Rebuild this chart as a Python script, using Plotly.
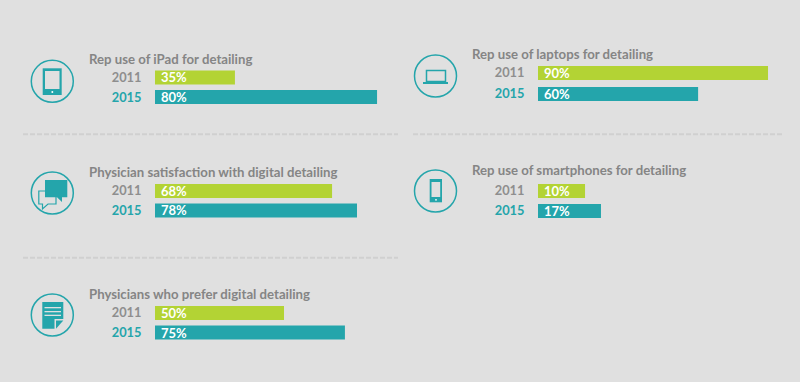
import plotly.graph_objects as go

# ---- data ----
years = ["2011", "2015"]
titles = [
    "Rep use of iPad for detailing",
    "Physician satisfaction with digital detailing",
    "Physicians who prefer digital detailing",
    "Rep use of laptops for detailing",
    "Rep use of smartphones for detailing",
]
labels_2011 = ["35%", "68%", "50%", "90%", "10%"]
labels_2015 = ["80%", "78%", "75%", "60%", "17%"]
# drawn bar lengths (the bars are not exactly to scale with their labels)
drawn_2011 = [31.1, 68.9, 50.2, 89.5, 18.3]
drawn_2015 = [86.4, 78.6, 73.9, 62.3, 24.5]

# ---- layout / style ----
W, H = 800, 382
BG, TEAL, LIME = "#e0e0e0", "#24a5ab", "#b3d334"
TITLE_C, YEAR_C, DASH_C = "#858585", "#8e8e8e", "#d0d0d0"
FONT = "Lato"
PX_PER_UNIT = 2.57
# bar left, centre y of first bar, row pitch, title y
panels = [
    (155, 77.4, 19.7, 58.5),
    (155, 191.0, 19.5, 171.7),
    (155, 313.0, 19.5, 294.3),
    (538, 73.0, 21.0, 54.0),
    (538, 191.0, 20.0, 170.0),
]
BAR_H = 14.0


def X(p):
    return p / W


def Y(p):
    return 1 - p / H


def poly(points, fill=None, line=None, lw=1.5):
    d = "M" + " L".join(f"{X(a):.5f},{Y(b):.5f}" for a, b in points) + " Z"
    return dict(type="path", path=d, xref="paper", yref="paper", layer="above",
                fillcolor=fill or "rgba(0,0,0,0)",
                line=dict(color=line or "rgba(0,0,0,0)", width=lw if line else 0))


def rect(x0, y0, x1, y1, fill=None, line=None, lw=1.5):
    return poly([(x0, y0), (x1, y0), (x1, y1), (x0, y1)], fill, line, lw)


def circle(cx, cy, r, fill=None, line=None, lw=1.5):
    return dict(type="circle", xref="paper", yref="paper", layer="above",
                x0=X(cx - r), x1=X(cx + r), y0=Y(cy + r), y1=Y(cy - r),
                fillcolor=fill or "rgba(0,0,0,0)",
                line=dict(color=line or "rgba(0,0,0,0)", width=lw if line else 0))


def dash(x0, x1, y):
    return dict(type="line", xref="paper", yref="paper", x0=X(x0), x1=X(x1), y0=Y(y), y1=Y(y),
                line=dict(color=DASH_C, width=2, dash="5px,2px"))


shapes = [dash(23, 398, 134.3), dash(23, 398, 257.8), dash(413, 782, 134.3)]

# icon rings
for c in [(52.3, 81.3), (52.3, 193), (52.3, 315), (435.5, 76), (435.5, 191)]:
    shapes.append(circle(c[0], c[1], 21, line=TEAL, lw=1.5))

# tablet
shapes += [rect(42.7, 68.3, 61.7, 95, fill=TEAL), rect(45, 71, 59.5, 89, fill=BG),
           circle(52.3, 92, 1, fill="#ffffff")]
# chat bubbles
shapes += [
    poly([(38.8, 191), (56, 191), (56, 204), (48, 204), (42.5, 209), (42.5, 204), (38.8, 204)], line=TEAL, lw=1.2),
    poly([(45, 180), (67.3, 180), (67.3, 197.3), (62, 197.3), (62, 202), (57, 197.3), (45, 197.3)], fill=TEAL),
]
# document
shapes += [
    poly([(42.3, 302), (63.3, 302), (63.3, 319), (54.5, 319), (54.5, 328.7), (42.3, 328.7)], fill=TEAL),
    poly([(56, 320.5), (63.3, 320.5), (56, 328.7)], fill=TEAL),
    rect(44.5, 307, 61, 308.3, fill=BG), rect(44.5, 311, 61, 312.3, fill=BG), rect(44.5, 314.7, 61, 316, fill=BG),
]
# laptop
shapes += [rect(426.5, 70.5, 445.5, 81.5, line=TEAL, lw=1.5), rect(423, 82, 448, 84, fill=TEAL)]
# phone
shapes += [rect(429.7, 179, 442, 202.3, fill=TEAL), rect(431.5, 182, 440.2, 197, fill=BG),
           circle(436, 199.8, 0.9, fill="#ffffff")]

fig = go.Figure()
layout = dict(
    width=W, height=H, autosize=False, margin=dict(l=0, r=0, t=0, b=0),
    paper_bgcolor=BG, plot_bgcolor="rgba(0,0,0,0)", showlegend=False,
    shapes=shapes, annotations=[], font=dict(family=FONT),
)

for i, (x0, yc, pitch, ty) in enumerate(panels):
    sfx = "" if i == 0 else str(i + 1)
    fig.add_trace(go.Bar(
        x=[drawn_2011[i], drawn_2015[i]], y=years, orientation="h",
        marker=dict(color=[LIME, TEAL], line=dict(width=0)),
        hoverinfo="skip", xaxis="x" + sfx, yaxis="y" + sfx, width=BAR_H / pitch,
    ))
    top = yc - pitch / 2
    bottom = yc + 1.5 * pitch
    layout["xaxis" + sfx] = dict(
        domain=[X(x0), X(x0 + 100 * PX_PER_UNIT)], range=[0, 100], anchor="y" + sfx,
        showgrid=False, zeroline=False, showline=False, showticklabels=False, ticks="", fixedrange=True,
    )
    layout["yaxis" + sfx] = dict(
        domain=[Y(bottom), Y(top)], anchor="x" + sfx, type="category", categoryorder="array",
        categoryarray=years, range=[1.5, -0.5], tickmode="array", tickvals=years,
        ticktext=[years[0], f'<span style="color:{TEAL}">{years[1]}</span>'],
        tickfont=dict(family=FONT, size=12.8, color=YEAR_C, weight="bold"),
        ticks="outside", ticklen=10, tickcolor="rgba(0,0,0,0)", showgrid=False, zeroline=False,
        showline=False, fixedrange=True,
    )
    layout["annotations"].append(dict(
        text=titles[i], xref="paper", yref="paper", x=X(x0 - 68), y=Y(ty),
        xanchor="left", yanchor="middle", showarrow=False,
        font=dict(family=FONT, size=13.2, color=TITLE_C, weight="bold"),
    ))
    for k, lab in enumerate((labels_2011[i], labels_2015[i])):
        layout["annotations"].append(dict(
            text=lab, xref="x" + sfx, yref="y" + sfx, x=0, y=k, xshift=4,
            xanchor="left", yanchor="middle", showarrow=False,
            font=dict(family=FONT, size=13, color="#ffffff", weight="bold"),
        ))

fig.update_layout(**layout)
fig.write_html("out.html", config=dict(displayModeBar=False),
               post_script="document.documentElement.style.margin='0';document.body.style.margin='0';document.body.style.background='%s';" % BG)
